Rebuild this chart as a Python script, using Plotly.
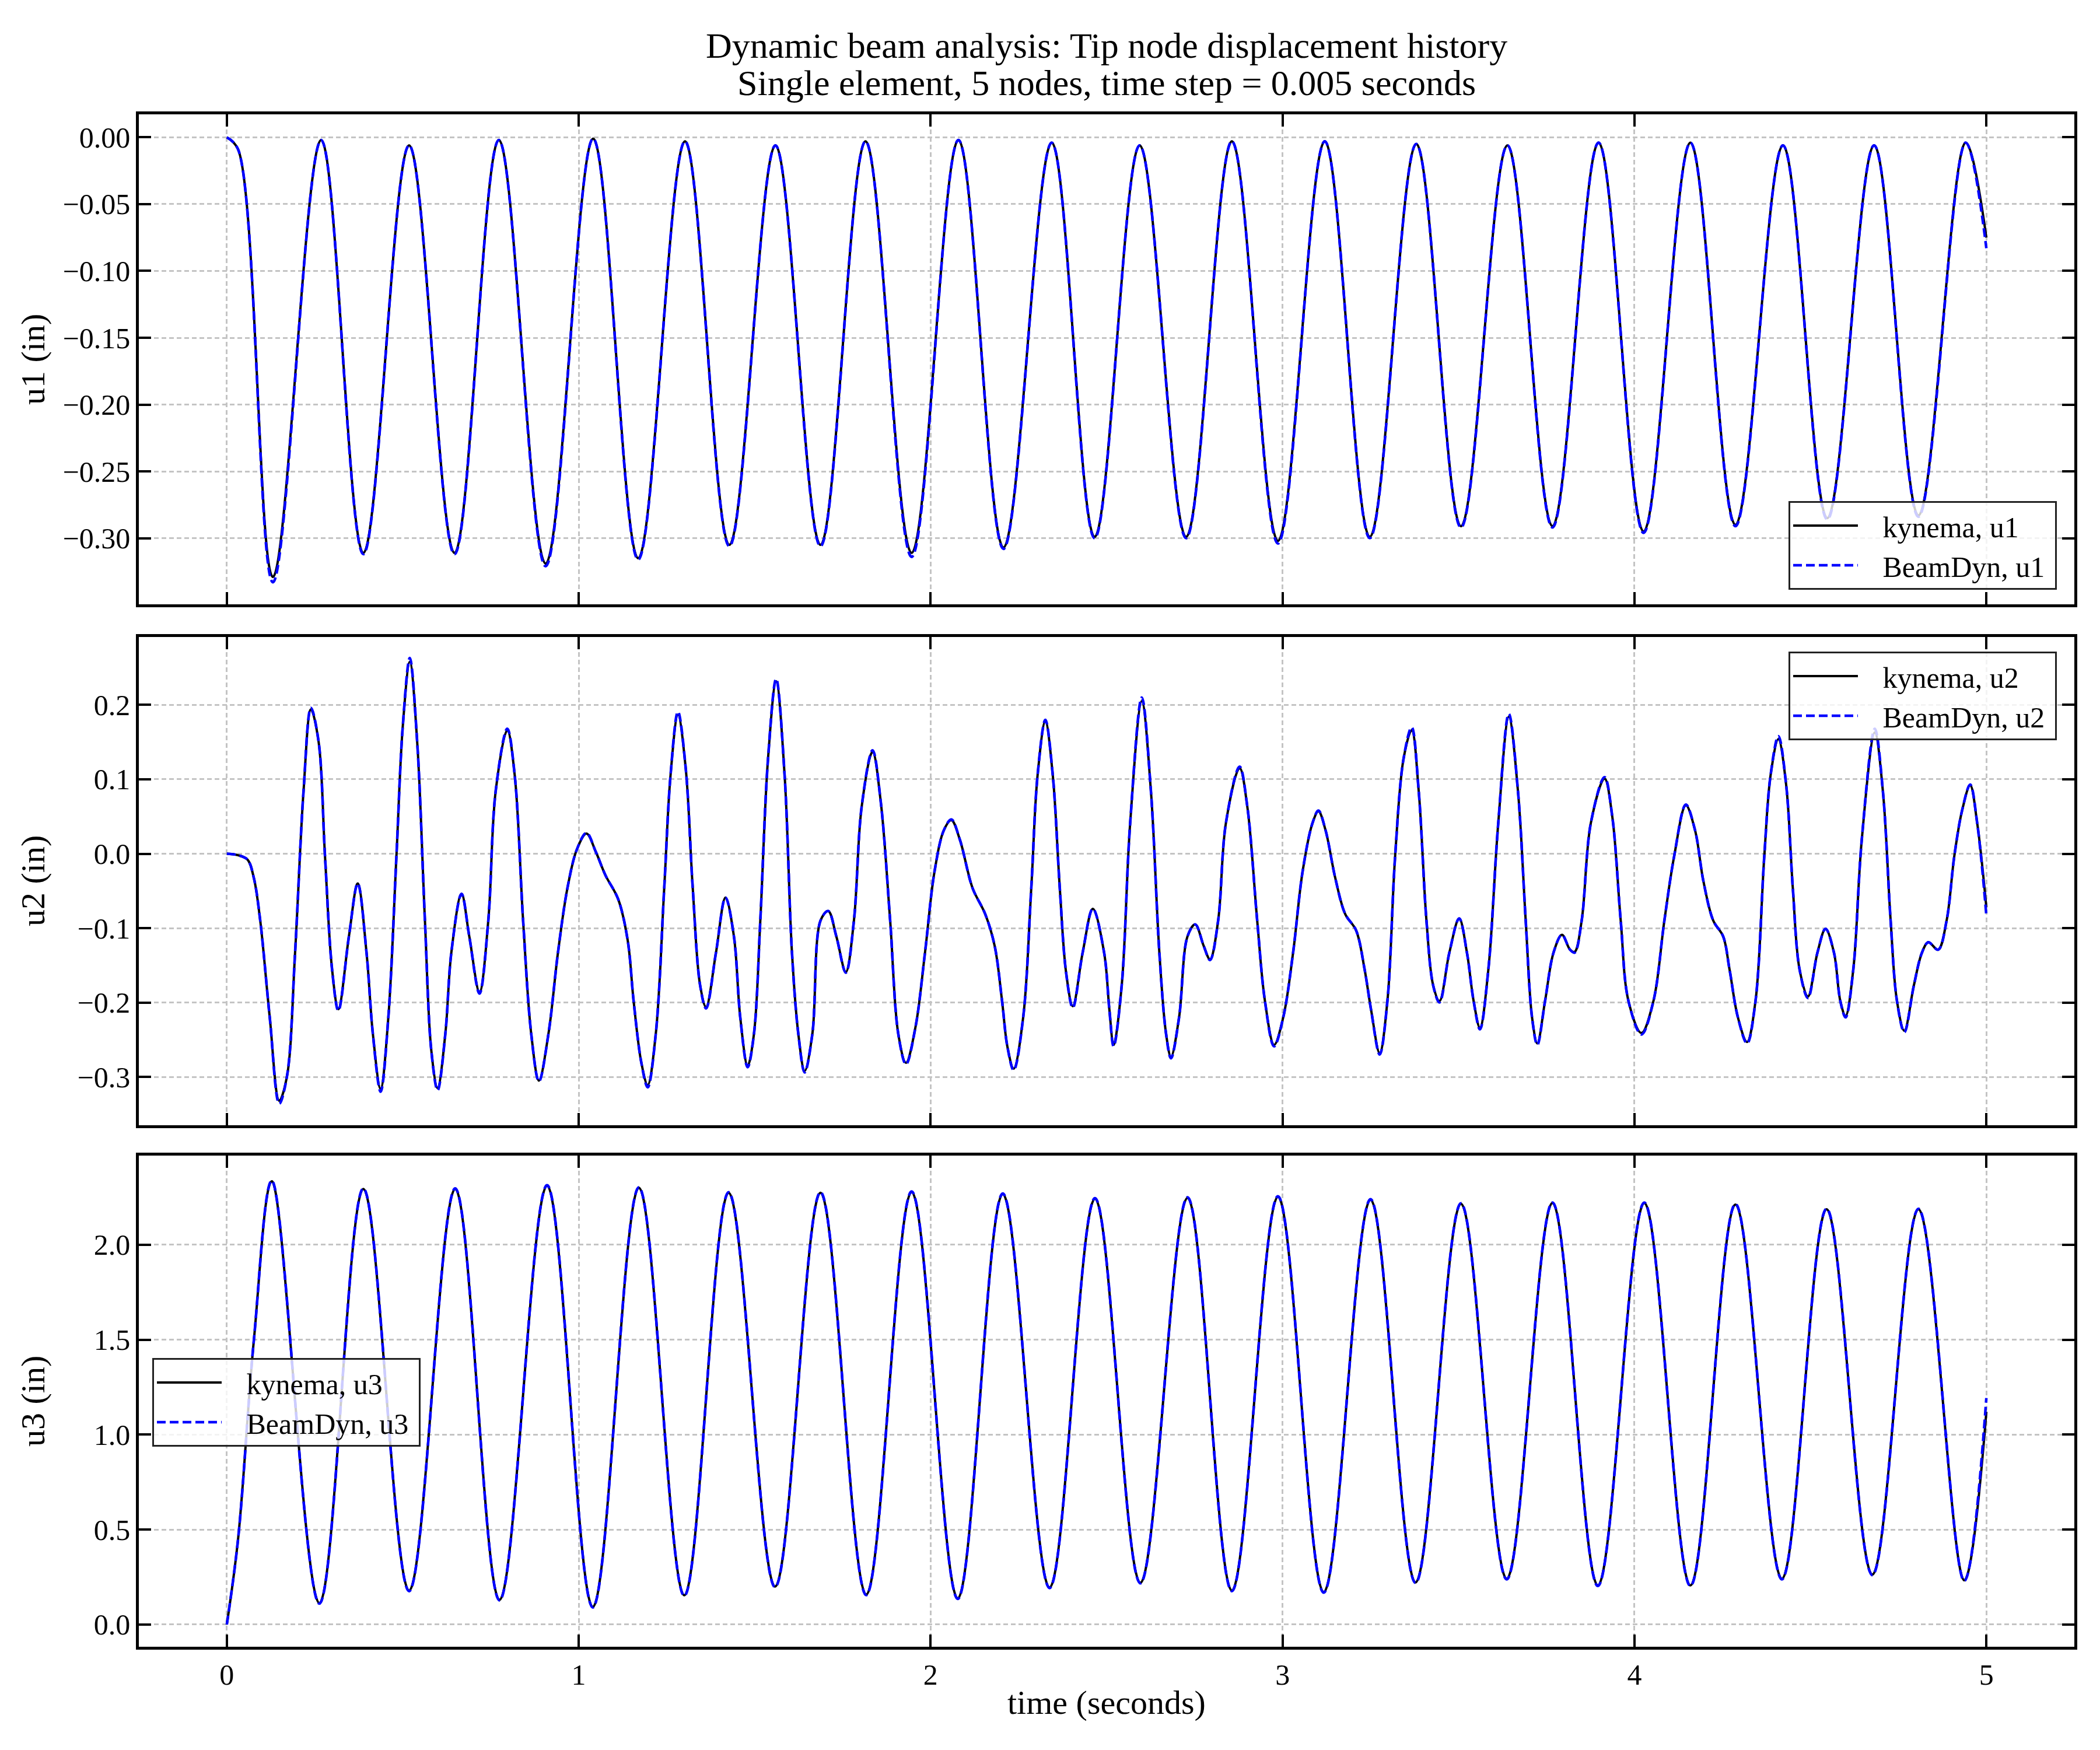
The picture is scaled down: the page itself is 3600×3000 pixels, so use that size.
import plotly.graph_objects as go

# ---------------- data ----------------
# u1: tip displacement, extrema of each oscillation
t_u1 = [0.0, 0.032, 0.131, 0.268, 0.388, 0.518, 0.647, 0.773, 0.906, 1.041, 1.169, 1.302,
        1.428, 1.559, 1.687, 1.815, 1.946, 2.079, 2.207, 2.344, 2.466, 2.594, 2.726,
        2.856, 2.987, 3.120, 3.248, 3.380, 3.507, 3.639, 3.767, 3.898, 4.026, 4.159,
        4.287, 4.422, 4.548, 4.681, 4.807, 4.941, 5.0]
kynema_u1 = [0.0, -0.009, -0.329, -0.002, -0.311, -0.006, -0.311, -0.002, -0.319, -0.001,
             -0.315, -0.003, -0.305, -0.006, -0.305, -0.003, -0.311, -0.002, -0.307,
             -0.004, -0.299, -0.006, -0.299, -0.003, -0.302, -0.003, -0.299, -0.005,
             -0.291, -0.006, -0.291, -0.004, -0.295, -0.004, -0.290, -0.006, -0.285,
             -0.006, -0.283, -0.004, -0.075]
beamdyn_u1 = [0.0, -0.009, -0.333, -0.002, -0.312, -0.006, -0.312, -0.002, -0.321, -0.001,
              -0.316, -0.003, -0.306, -0.006, -0.306, -0.003, -0.314, -0.002, -0.308,
              -0.004, -0.300, -0.006, -0.300, -0.003, -0.304, -0.003, -0.300, -0.005,
              -0.292, -0.006, -0.292, -0.004, -0.296, -0.004, -0.291, -0.006, -0.286,
              -0.006, -0.284, -0.004, -0.083]

# u2: tip displacement (dense trace)
t_u2 = [0.000, 0.032, 0.059, 0.077, 0.095, 0.122, 0.149, 0.171, 0.194, 0.218, 0.239, 0.261,
        0.279, 0.299, 0.317, 0.347, 0.372, 0.397, 0.415, 0.437, 0.459, 0.482, 0.500, 0.520,
        0.541, 0.563, 0.581, 0.599, 0.621, 0.638, 0.667, 0.689, 0.718, 0.743, 0.764, 0.797,
        0.818, 0.842, 0.865, 0.887, 0.914, 0.941, 0.968, 0.995, 1.022, 1.049, 1.076, 1.112,
        1.139, 1.156, 1.178, 1.196, 1.219, 1.243, 1.261, 1.282, 1.304, 1.324, 1.345, 1.362,
        1.390, 1.417, 1.441, 1.459, 1.480, 1.498, 1.516, 1.538, 1.561, 1.585, 1.606, 1.624,
        1.642, 1.664, 1.687, 1.709, 1.732, 1.759, 1.782, 1.804, 1.835, 1.858, 1.885, 1.908,
        1.930, 1.957, 1.984, 2.011, 2.038, 2.059, 2.083, 2.119, 2.155, 2.182, 2.203, 2.218,
        2.236, 2.263, 2.286, 2.304, 2.326, 2.347, 2.367, 2.385, 2.404, 2.432, 2.461, 2.493,
        2.508, 2.520, 2.543, 2.567, 2.600, 2.626, 2.650, 2.669, 2.683, 2.706, 2.730, 2.752,
        2.776, 2.794, 2.817, 2.839, 2.878, 2.900, 2.928, 2.950, 2.976, 3.002, 3.030, 3.057,
        3.085, 3.102, 3.122, 3.150, 3.178, 3.209, 3.233, 3.252, 3.276, 3.298, 3.320, 3.344,
        3.367, 3.387, 3.409, 3.428, 3.446, 3.474, 3.502, 3.524, 3.543, 3.561, 3.585, 3.613,
        3.643, 3.669, 3.691, 3.709, 3.724, 3.746, 3.770, 3.794, 3.817, 3.830, 3.850, 3.876,
        3.915, 3.937, 3.961, 3.983, 4.020, 4.054, 4.085, 4.113, 4.146, 4.172, 4.196, 4.224,
        4.252, 4.270, 4.294, 4.320, 4.344, 4.369, 4.387, 4.409, 4.431, 4.450, 4.469, 4.493,
        4.520, 4.543, 4.567, 4.585, 4.600, 4.622, 4.646, 4.683, 4.706, 4.728, 4.746, 4.767,
        4.794, 4.817, 4.835, 4.863, 4.887, 4.909, 4.931, 4.954, 4.974, 5.000]
kynema_u2 = [0.000, -0.002, -0.008, -0.033, -0.090, -0.220, -0.332, -0.299, -0.133, 0.084,
             0.194, 0.150, -0.003, -0.155, -0.209, -0.111, -0.040, -0.133, -0.242, -0.316,
             -0.220, -0.003, 0.171, 0.258, 0.150, -0.090, -0.264, -0.315, -0.242, -0.133,
             -0.054, -0.111, -0.186, -0.090, 0.084, 0.166, 0.106, -0.090, -0.242, -0.305,
             -0.242, -0.133, -0.046, 0.006, 0.027, 0.002, -0.029, -0.061, -0.116, -0.198,
             -0.281, -0.311, -0.242, -0.046, 0.106, 0.187, 0.115, -0.046, -0.177, -0.206,
             -0.133, -0.059, -0.111, -0.220, -0.285, -0.242, -0.090, 0.128, 0.232, 0.106,
             -0.133, -0.242, -0.292, -0.242, -0.090, -0.077, -0.111, -0.159, -0.090, 0.063,
             0.137, 0.071, -0.090, -0.242, -0.281, -0.233, -0.133, -0.024, 0.032, 0.045,
             0.019, -0.046, -0.081, -0.124, -0.198, -0.259, -0.289, -0.220, -0.046, 0.106,
             0.178, 0.106, -0.046, -0.160, -0.205, -0.133, -0.074, -0.133, -0.210, -0.257,
             -0.177, 0.041, 0.205, 0.084, -0.133, -0.242, -0.273, -0.220, -0.111, -0.095,
             -0.124, -0.142, -0.090, 0.041, 0.115, 0.063, -0.090, -0.198, -0.257, -0.220,
             -0.133, -0.024, 0.041, 0.057, 0.032, -0.033, -0.081, -0.103, -0.155, -0.211,
             -0.268, -0.198, -0.003, 0.128, 0.166, 0.084, -0.090, -0.177, -0.198, -0.133,
             -0.087, -0.133, -0.198, -0.234, -0.155, 0.041, 0.184, 0.084, -0.090, -0.220,
             -0.255, -0.198, -0.133, -0.109, -0.129, -0.132, -0.090, 0.041, 0.101, 0.050,
             -0.090, -0.198, -0.241, -0.198, -0.090, -0.003, 0.065, 0.032, -0.037, -0.090,
             -0.111, -0.155, -0.220, -0.253, -0.198, -0.003, 0.106, 0.154, 0.093, -0.046,
             -0.155, -0.192, -0.133, -0.101, -0.133, -0.198, -0.218, -0.155, 0.019, 0.163,
             0.084, -0.090, -0.198, -0.238, -0.177, -0.133, -0.119, -0.129, -0.090, -0.003,
             0.058, 0.092, 0.041, -0.072]
beamdyn_u2 = [0.000, -0.002, -0.008, -0.033, -0.090, -0.220, -0.336, -0.299, -0.133, 0.084,
              0.196, 0.150, -0.003, -0.155, -0.211, -0.111, -0.040, -0.133, -0.242, -0.320,
              -0.220, -0.003, 0.171, 0.263, 0.150, -0.090, -0.264, -0.318, -0.242, -0.133,
              -0.054, -0.111, -0.188, -0.090, 0.084, 0.168, 0.106, -0.090, -0.242, -0.306,
              -0.242, -0.133, -0.046, 0.006, 0.028, 0.002, -0.029, -0.061, -0.116, -0.198,
              -0.281, -0.314, -0.242, -0.046, 0.106, 0.191, 0.115, -0.046, -0.177, -0.208,
              -0.133, -0.059, -0.111, -0.220, -0.287, -0.242, -0.090, 0.128, 0.235, 0.106,
              -0.133, -0.242, -0.294, -0.242, -0.090, -0.077, -0.111, -0.160, -0.090, 0.063,
              0.139, 0.071, -0.090, -0.242, -0.283, -0.233, -0.133, -0.024, 0.032, 0.046,
              0.019, -0.046, -0.081, -0.124, -0.198, -0.259, -0.291, -0.220, -0.046, 0.106,
              0.180, 0.106, -0.046, -0.160, -0.207, -0.133, -0.074, -0.133, -0.210, -0.259,
              -0.177, 0.041, 0.210, 0.084, -0.133, -0.242, -0.275, -0.220, -0.111, -0.095,
              -0.124, -0.143, -0.090, 0.041, 0.117, 0.063, -0.090, -0.198, -0.259, -0.220,
              -0.133, -0.024, 0.041, 0.058, 0.032, -0.033, -0.081, -0.103, -0.155, -0.211,
              -0.270, -0.198, -0.003, 0.128, 0.170, 0.084, -0.090, -0.177, -0.200, -0.133,
              -0.087, -0.133, -0.198, -0.236, -0.155, 0.041, 0.188, 0.084, -0.090, -0.220,
              -0.257, -0.198, -0.133, -0.109, -0.129, -0.133, -0.090, 0.041, 0.103, 0.050,
              -0.090, -0.198, -0.243, -0.198, -0.090, -0.003, 0.066, 0.032, -0.037, -0.090,
              -0.111, -0.155, -0.220, -0.255, -0.198, -0.003, 0.106, 0.158, 0.093, -0.046,
              -0.155, -0.194, -0.133, -0.101, -0.133, -0.198, -0.220, -0.155, 0.019, 0.168,
              0.084, -0.090, -0.198, -0.240, -0.177, -0.133, -0.119, -0.129, -0.090, -0.003,
              0.058, 0.093, 0.041, -0.083]

# u3: tip displacement, extrema of each oscillation
t_u3 = [0.0, 0.032, 0.077, 0.128, 0.263, 0.388, 0.518, 0.649, 0.775, 0.910, 1.040, 1.171,
        1.300, 1.426, 1.558, 1.687, 1.817, 1.946, 2.077, 2.205, 2.338, 2.467, 2.596,
        2.730, 2.856, 2.987, 3.117, 3.250, 3.378, 3.507, 3.637, 3.767, 3.896, 4.028,
        4.159, 4.287, 4.419, 4.546, 4.676, 4.807, 4.937, 5.0]
kynema_u3 = [0.0, 0.45, 1.50, 2.335, 0.113, 2.294, 0.179, 2.294, 0.130, 2.311, 0.093, 2.300,
             0.154, 2.274, 0.200, 2.274, 0.158, 2.278, 0.138, 2.267, 0.195, 2.243, 0.220,
             2.247, 0.179, 2.253, 0.171, 2.237, 0.222, 2.216, 0.241, 2.220, 0.206, 2.220,
             0.206, 2.212, 0.241, 2.187, 0.263, 2.187, 0.233, 1.121]
beamdyn_u3 = [0.0, 0.45, 1.50, 2.338, 0.110, 2.297, 0.176, 2.297, 0.127, 2.314, 0.090, 2.303,
              0.151, 2.277, 0.197, 2.277, 0.155, 2.281, 0.135, 2.270, 0.192, 2.246, 0.217,
              2.250, 0.176, 2.256, 0.168, 2.240, 0.219, 2.219, 0.238, 2.223, 0.203, 2.223,
              0.203, 2.215, 0.238, 2.190, 0.260, 2.190, 0.230, 1.193]

x_ticks = [0, 1, 2, 3, 4, 5]
y_labels = ["u1 (in)", "u2 (in)", "u3 (in)"]
title_lines = ["Dynamic beam analysis: Tip node displacement history",
               "Single element, 5 nodes, time step = 0.005 seconds"]
x_label = "time (seconds)"

# ---------------- styling ----------------
W, H = 3600, 3000
FONT = "Liberation Serif"
TICK_FS = 50
LEGEND_FS = 50
LABEL_FS = 58
TITLE_FS = 62
LEAD = "\u00a0\u00a0\u00a0"
TRAIL = "\u00a0"

def py(px):  # pixel (from top) -> paper fraction
    return 1 - px / H

x_dom = [230 / W, 3548 / W]
y_doms = [[py(1028), py(188)], [py(1921), py(1084)], [py(2815), py(1973)]]
y_ranges = [[-0.3495, 0.0172], [-0.365, 0.2913], [-0.117, 2.47]]
y_dticks = [0.05, 0.1, 0.5]
y_formats = [".2f", ".1f", ".1f"]

series = [
    (t_u1, kynema_u1, beamdyn_u1, "u1"),
    (t_u2, kynema_u2, beamdyn_u2, "u2"),
    (t_u3, kynema_u3, beamdyn_u3, "u3"),
]

fig = go.Figure()
legend_names = ["legend", "legend2", "legend3"]
for i, (t, k, b, name) in enumerate(series):
    xa = "x" if i == 0 else f"x{i+1}"
    ya = "y" if i == 0 else f"y{i+1}"
    fig.add_trace(go.Scatter(
        x=t, y=k, mode="lines", name=f"{LEAD}kynema, {name}{TRAIL}",
        line=dict(color="black", width=4, shape="spline", smoothing=1.0),
        xaxis=xa, yaxis=ya, legend=legend_names[i]))
    fig.add_trace(go.Scatter(
        x=t, y=b, mode="lines", name=f"{LEAD}BeamDyn, {name}{TRAIL}",
        line=dict(color="#0000ff", width=4.5, dash="15px,7px", shape="spline", smoothing=1.0),
        xaxis=xa, yaxis=ya, legend=legend_names[i]))

axis_common = dict(
    showline=True, linecolor="black", linewidth=4.5, mirror="allticks",
    ticks="inside", ticklen=21, tickwidth=3.5, tickcolor="black",
    showgrid=True, gridcolor="#c4c4c4", gridwidth=2.5, griddash="8px,5px",
    zeroline=False,
    tickfont=dict(family=FONT, size=TICK_FS, color="black"),
)

layout = dict(
    width=W, height=H,
    margin=dict(l=0, r=0, t=0, b=0),
    paper_bgcolor="white", plot_bgcolor="white",
    font=dict(family=FONT, color="black"),
    showlegend=True,
)
for i in range(3):
    xk = "xaxis" if i == 0 else f"xaxis{i+1}"
    yk = "yaxis" if i == 0 else f"yaxis{i+1}"
    ya = "y" if i == 0 else f"y{i+1}"
    xa = "x" if i == 0 else f"x{i+1}"
    layout[xk] = dict(axis_common, domain=x_dom, anchor=ya, range=[-0.25, 5.25],
                      tickmode="array", tickvals=x_ticks,
                      ticktext=[str(v) for v in x_ticks],
                      showticklabels=(i == 2))
    layout[yk] = dict(axis_common, domain=y_doms[i], anchor=xa, range=y_ranges[i],
                      dtick=y_dticks[i], tick0=0, tickformat=y_formats[i])

legend_common = dict(
    font=dict(family=FONT, size=LEGEND_FS, color="black"),
    bgcolor="rgba(255,255,255,0.8)", bordercolor="#222222", borderwidth=3,
    itemwidth=111, tracegroupgap=0,
)
layout["legend"] = dict(legend_common, x=3518 / W, xanchor="right", y=py(1003), yanchor="bottom")
layout["legend2"] = dict(legend_common, x=3518 / W, xanchor="right", y=py(1109), yanchor="top")
layout["legend3"] = dict(legend_common, x=253 / W, xanchor="left", y=py(2396), yanchor="middle")

annotations = [
    dict(text=title_lines[0], x=1889 / W, y=py(70), xref="paper", yref="paper",
         xanchor="center", yanchor="middle", showarrow=False,
         font=dict(family=FONT, size=TITLE_FS, color="black")),
    dict(text=title_lines[1], x=1889 / W, y=py(134), xref="paper", yref="paper",
         xanchor="center", yanchor="middle", showarrow=False,
         font=dict(family=FONT, size=TITLE_FS, color="black")),
    dict(text=x_label, x=1889 / W, y=py(2910), xref="paper", yref="paper",
         xanchor="center", yanchor="middle", showarrow=False,
         font=dict(family=FONT, size=LABEL_FS, color="black")),
]
centers = [608, 1502, 2394]
for i in range(3):
    annotations.append(dict(text=y_labels[i], x=48 / W, y=py(centers[i]), xref="paper",
                            yref="paper", xanchor="center", yanchor="middle",
                            textangle=-90, showarrow=False,
                            font=dict(family=FONT, size=LABEL_FS, color="black")))
layout["annotations"] = annotations

fig.update_layout(**layout)
fig.write_html("out.html")
